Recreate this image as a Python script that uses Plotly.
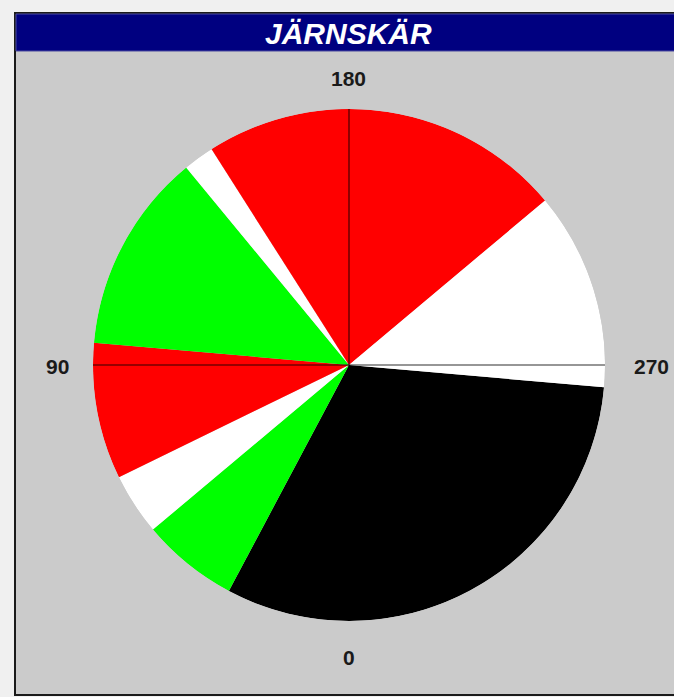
import plotly.graph_objects as go

# Sector data (bearings, clockwise from bottom = 0)
sector_start = [275, 28, 50, 64, 95, 140.5, 147.5, 230]
sector_end = [388, 50, 64, 95, 140.5, 147.5, 230, 275]
sector_color = ["#000000", "#00ff00", "#ffffff", "#ff0000", "#00ff00", "#ffffff", "#ff0000", "#ffffff"]
tick_labels = ["0", "90", "180", "270"]
title_text = "JÄRNSKÄR"

W, H = 674, 697
cx, cy, R = 349, 365, 256

def px(x):
    return x / W

def py(y):
    return 1 - y / H

theta = [(s + e) / 2 for s, e in zip(sector_start, sector_end)]
width = [e - s for s, e in zip(sector_start, sector_end)]

fig = go.Figure()
fig.add_trace(go.Barpolar(
    r=[1] * len(theta), theta=theta, width=width,
    marker=dict(color=sector_color, line=dict(width=0)),
    hoverinfo="skip", showlegend=False,
))
# crosshair lines
fig.add_trace(go.Scatterpolar(
    r=[1, 0, 1, None, 1, 0, 1],
    theta=[0, 0, 180, None, 90, 90, 270],
    mode="lines", line=dict(color="rgba(0,0,0,0.55)", width=1.6),
    hoverinfo="skip", showlegend=False,
))

lab_font = dict(family="Liberation Sans, Arial", size=21, color="#1a1a1a")

fig.update_layout(
    width=W, height=H,
    margin=dict(l=0, r=0, t=0, b=0),
    paper_bgcolor="#f0f0f0",
    plot_bgcolor="#cbcbcb",
    polar=dict(
        domain=dict(x=[px(cx - R), px(cx + R)], y=[py(cy + R), py(cy - R)]),
        bgcolor="rgba(0,0,0,0)",
        angularaxis=dict(rotation=270, direction="clockwise", visible=False,
                         showgrid=False, showline=False),
        radialaxis=dict(range=[0, 1], visible=False, showgrid=False, showline=False),
    ),
    shapes=[
        dict(type="rect", xref="paper", yref="paper", layer="below",
             x0=px(15), x1=px(680), y0=py(695), y1=py(13),
             fillcolor="#cbcbcb", line=dict(color="#1a1a1a", width=2)),
        dict(type="rect", xref="paper", yref="paper", layer="below",
             x0=px(16), x1=px(680), y0=py(51), y1=py(14),
             fillcolor="#000080", line=dict(color="#4a4aa0", width=1)),
    ],
    annotations=[
        dict(text=f"<b><i>{title_text}</i></b>", x=px(349), y=py(33), xref="paper", yref="paper",
             showarrow=False, font=dict(family="Liberation Sans, Arial", size=30, color="white"),
             xanchor="center", yanchor="middle"),
        dict(text=f"<b>{tick_labels[2]}</b>", x=px(349), y=py(78), xref="paper", yref="paper",
             showarrow=False, font=lab_font, xanchor="center", yanchor="middle"),
        dict(text=f"<b>{tick_labels[0]}</b>", x=px(349), y=py(657), xref="paper", yref="paper",
             showarrow=False, font=lab_font, xanchor="center", yanchor="middle"),
        dict(text=f"<b>{tick_labels[1]}</b>", x=px(57), y=py(367), xref="paper", yref="paper",
             showarrow=False, font=lab_font, xanchor="center", yanchor="middle"),
        dict(text=f"<b>{tick_labels[3]}</b>", x=px(651), y=py(367), xref="paper", yref="paper",
             showarrow=False, font=lab_font, xanchor="center", yanchor="middle"),
    ],
)

fig.write_html("out.html", config={"displayModeBar": False},
               post_script="document.body.style.margin='0';document.body.style.overflow='hidden';")
